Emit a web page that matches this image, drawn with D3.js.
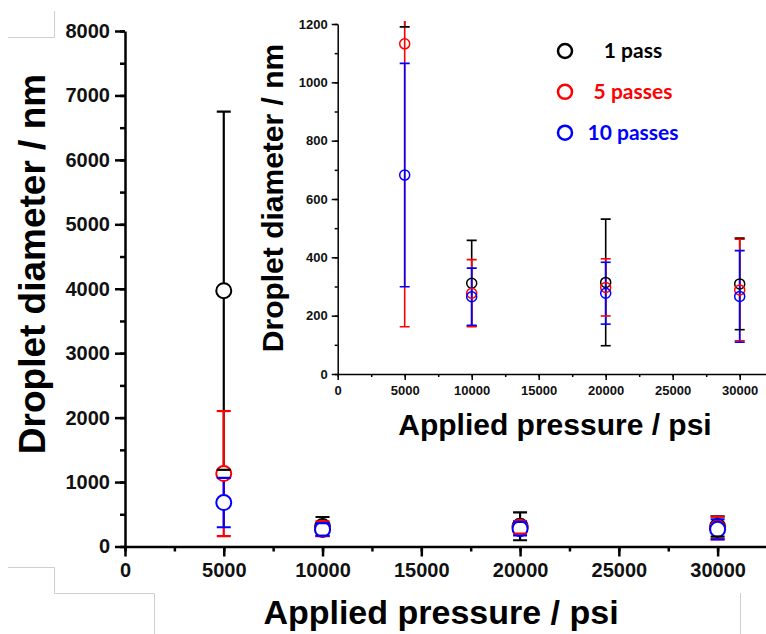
<!DOCTYPE html>
<html>
<head>
<meta charset="utf-8">
<script src="https://cdn.jsdelivr.net/npm/d3@7"></script>
<style>
  body { margin: 0; background: #fff; }
  svg { display: block; }
</style>
</head>
<body>
<div id="chart"></div>
<script>
// values (nm), same data in main plot and inset
const pressures = [5000, 10000, 20000, 30000];
const pass1Mean = [3970, 311, 314, 309];
const pass1Err = [2780, 147, 217, 157];
const pass5Mean = [1132, 277, 297, 288];
const pass5Err = [970, 115, 98, 174];
const pass10Mean = [682, 265, 277, 266];
const pass10Err = [383, 98, 106, 157];
const seriesNames = ["1 pass", "5 passes", "10 passes"];
const seriesColors = ["#000000", "#ff0000", "#0000ff"];

const series = [
    { name: seriesNames[0], color: seriesColors[0], mean: pass1Mean, err: pass1Err },
    { name: seriesNames[1], color: seriesColors[1], mean: pass5Mean, err: pass5Err },
    { name: seriesNames[2], color: seriesColors[2], mean: pass10Mean, err: pass10Err }
].map(s => ({ ...s, points: pressures.map((p, i) => ({ x: p, y: s.mean[i], e: s.err[i] })) }));

const W = 766, H = 634;
const svg = d3.select("#chart").append("svg")
    .attr("width", W)
    .attr("height", H);

const tickFont = "'Liberation Sans', Arial, sans-serif";

// faint crop marks left in the screenshot
const crop = svg.append("g").attr("fill", "none").attr("stroke", "#cfcfcf").attr("stroke-width", 1);
crop.append("path").attr("d", "M8,37.5H54.5V11");
crop.append("path").attr("d", "M8,567.5H54.5V593.5H154.5V634");
crop.append("path").attr("d", "M740.5,593V634");

function drawPanel(opt) {
    const g = svg.append("g");
    const x = d3.scaleLinear().domain(opt.xDomain).range(opt.xRange);
    const y = d3.scaleLinear().domain(opt.yDomain).range(opt.yRange);

    // minor ticks
    g.append("g")
        .attr("transform", `translate(0,${opt.yRange[0]})`)
        .call(d3.axisBottom(x).tickValues(opt.xMinor).tickSize(opt.minor).tickSizeOuter(0).tickFormat(""))
        .call(a => a.select(".domain").remove())
        .selectAll("line").attr("stroke-width", opt.axisW);
    g.append("g")
        .attr("transform", `translate(${opt.xRange[0]},0)`)
        .call(d3.axisLeft(y).tickValues(opt.yMinor).tickSize(opt.minor).tickSizeOuter(0).tickFormat(""))
        .call(a => a.select(".domain").remove())
        .selectAll("line").attr("stroke-width", opt.axisW);

    // major ticks + axis lines
    const xa = g.append("g")
        .attr("transform", `translate(0,${opt.yRange[0]})`)
        .call(d3.axisBottom(x).tickValues(opt.xMajor).tickFormat(d3.format("d"))
            .tickSize(opt.major).tickSizeOuter(0).tickPadding(opt.xPad));
    const ya = g.append("g")
        .attr("transform", `translate(${opt.xRange[0]},0)`)
        .call(d3.axisLeft(y).tickValues(opt.yMajor).tickFormat(d3.format("d"))
            .tickSize(opt.major).tickSizeOuter(0).tickPadding(opt.yPad));
    [xa, ya].forEach(a => {
        a.select(".domain").attr("stroke-width", opt.axisW);
        a.selectAll("line").attr("stroke-width", opt.axisW);
        a.selectAll("text")
            .attr("fill", "#111")
            .style("font-family", tickFont)
            .style("font-weight", "bold")
            .style("font-size", opt.tickFs + "px");
    });

    // axis titles
    g.append("text")
        .attr("x", opt.xTitle[0])
        .attr("y", opt.xTitle[1])
        .attr("text-anchor", "middle")
        .style("font-family", tickFont)
        .style("font-weight", "bold")
        .style("font-size", opt.titleFs[0] + "px")
        .text("Applied pressure / psi");
    g.append("text")
        .attr("transform", `translate(${opt.yTitle[0]},${opt.yTitle[1]}) rotate(-90)`)
        .attr("text-anchor", "middle")
        .style("font-family", tickFont)
        .style("font-weight", "bold")
        .style("font-size", opt.titleFs[1] + "px")
        .text("Droplet diameter / nm");

    // plot area clip
    const clipId = "clip" + opt.id;
    svg.append("clipPath").attr("id", clipId)
        .append("rect")
        .attr("x", opt.xRange[0]).attr("y", opt.yRange[1] - 3)
        .attr("width", opt.xRange[1] - opt.xRange[0])
        .attr("height", opt.yRange[0] - opt.yRange[1] + 3);
    const plot = g.append("g").attr("clip-path", `url(#${clipId})`);

    // error bar stems
    series.forEach(s => {
        plot.append("g").selectAll("line")
            .data(s.points)
            .enter().append("line")
            .attr("x1", d => x(d.x)).attr("x2", d => x(d.x))
            .attr("y1", d => y(d.y - d.e)).attr("y2", d => y(d.y + d.e))
            .attr("stroke", s.color)
            .attr("stroke-width", opt.barW);
    });
    // markers
    series.forEach(s => {
        plot.append("g").selectAll("circle")
            .data(s.points)
            .enter().append("circle")
            .attr("cx", d => x(d.x))
            .attr("cy", d => y(d.y))
            .attr("r", opt.r)
            .attr("fill", opt.fill)
            .attr("stroke", s.color)
            .attr("stroke-width", opt.circW);
    });
    // caps
    series.forEach(s => {
        const caps = s.points.flatMap(d => [d.y - d.e, d.y + d.e].map(v => ({ x: d.x, v })));
        plot.append("g").selectAll("line")
            .data(caps)
            .enter().append("line")
            .attr("x1", d => x(d.x) - opt.cap).attr("x2", d => x(d.x) + opt.cap)
            .attr("y1", d => y(d.v)).attr("y2", d => y(d.v))
            .attr("stroke", s.color)
            .attr("stroke-width", opt.barW);
    });
    return { x, y, g };
}

// main plot
drawPanel({
    id: "main",
    xDomain: [0, 32500], xRange: [125, 767],
    yDomain: [0, 8000], yRange: [546.5, 31],
    xMajor: d3.range(0, 30001, 5000), xMinor: d3.range(0, 32501, 2500),
    yMajor: d3.range(0, 8001, 1000), yMinor: d3.range(0, 8001, 500),
    major: 10, minor: 5, axisW: 2.5, xPad: 6, yPad: 5,
    tickFs: 20, titleFs: [34, 37],
    xTitle: [441, 624], yTitle: [45, 264],
    r: 7.5, circW: 2, barW: 2.2, cap: 7, fill: "#fff"
});

// inset
drawPanel({
    id: "inset",
    xDomain: [0, 32000], xRange: [337.7, 766.5],
    yDomain: [0, 1200], yRange: [374, 24],
    xMajor: d3.range(0, 30001, 5000), xMinor: d3.range(0, 32001, 2500),
    yMajor: d3.range(0, 1201, 200), yMinor: d3.range(0, 1201, 100),
    major: 6, minor: 3, axisW: 1.5, xPad: 6, yPad: 4,
    tickFs: 13, titleFs: [30, 30],
    xTitle: [555, 435], yTitle: [283, 198],
    r: 5, circW: 1.5, barW: 1.6, cap: 5, fill: "none"
});

// legend
const legend = svg.append("g");
const ly = d3.scalePoint().domain(seriesNames).range([51, 132.7]);
legend.selectAll("circle")
    .data(series)
    .enter().append("circle")
    .attr("cx", 565)
    .attr("cy", d => ly(d.name))
    .attr("r", 7)
    .attr("fill", "none")
    .attr("stroke", d => d.color)
    .attr("stroke-width", 2.5);
legend.selectAll("text")
    .data(series)
    .enter().append("text")
    .attr("x", 633)
    .attr("y", d => ly(d.name))
    .attr("dy", "0.35em")
    .attr("text-anchor", "middle")
    .attr("fill", d => d.color)
    .style("font-family", "Lato, 'Open Sans', sans-serif")
    .style("font-weight", "bold")
    .style("font-size", "21px")
    .text(d => d.name);
</script>
</body>
</html>
